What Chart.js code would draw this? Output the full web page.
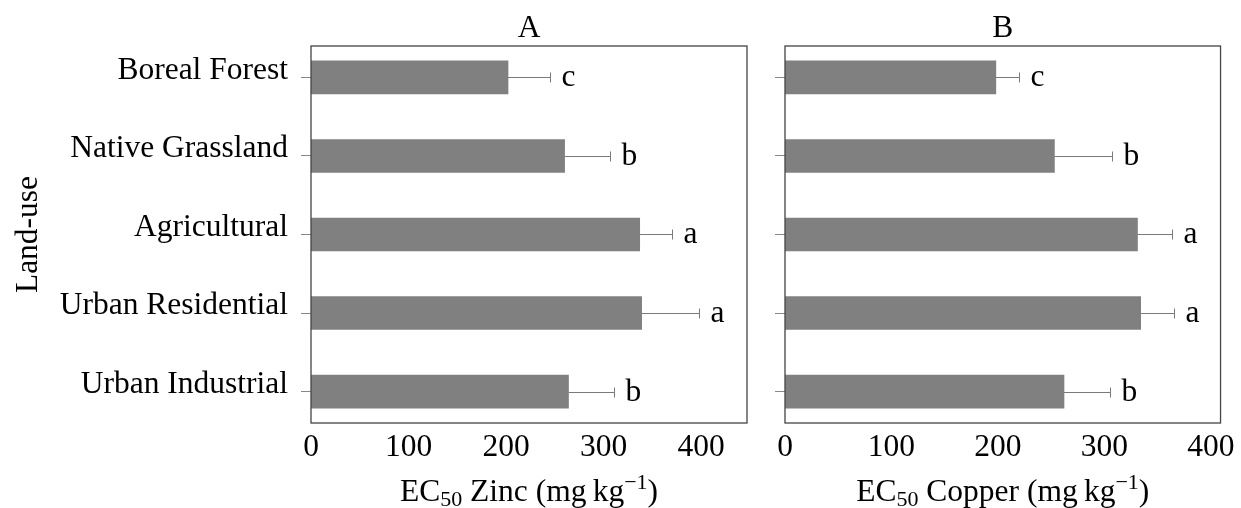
<!DOCTYPE html>
<html>
<head>
<meta charset="utf-8">
<script src="https://cdn.jsdelivr.net/npm/chart.js@4"></script>
<style>
  body { margin: 0; background: #fff; }
  #wrap { position: relative; width: 1241px; height: 508px; }
  canvas { position: absolute; top: 0; }
</style>
</head>
<body>
<div id="wrap">
  <canvas id="chartA" width="760" height="508" style="left:0"></canvas>
  <canvas id="chartB" width="481" height="508" style="left:760px"></canvas>
</div>
<script>
// Data
const categories = ["Boreal Forest", "Native Grassland", "Agricultural", "Urban Residential", "Urban Industrial"];
const zincMean = [202, 260, 337, 339, 264];
const zincErr = [43, 47, 33, 59, 47];
const copperMean = [198, 253, 331, 334, 262];
const copperErr = [22, 54, 32, 31, 43];
const letters = ["c", "b", "a", "a", "b"];
const xTicks = [0, 100, 200, 300, 400];

const FONT = "'Liberation Serif', 'Times New Roman', serif";
const FS = 31.5;

// draws frame, error bars, letters, titles
const decorations = {
  id: "decorations",
  afterDatasetsDraw(chart, args, opts) {
    const { ctx, chartArea: a, scales: { x, y } } = chart;
    ctx.save();

    // error bars
    ctx.strokeStyle = "#7a7a7a";
    ctx.lineWidth = 1;
    opts.means.forEach((m, i) => {
      const yc = Math.round(y.getPixelForValue(i)) + 0.5;
      const x0 = x.getPixelForValue(m);
      const x1 = Math.round(x.getPixelForValue(m + opts.errs[i])) + 0.5;
      ctx.beginPath();
      ctx.moveTo(x0, yc);
      ctx.lineTo(x1, yc);
      ctx.moveTo(x1, yc - 5);
      ctx.lineTo(x1, yc + 5);
      ctx.stroke();

      ctx.fillStyle = "#000";
      ctx.font = FS + "px " + FONT;
      ctx.textAlign = "left";
      ctx.textBaseline = "alphabetic";
      ctx.fillText(opts.letters[i], x1 + 11, yc + 8);
    });

    // frame
    ctx.strokeStyle = "#444";
    ctx.lineWidth = 1.3;
    ctx.strokeRect(a.left, a.top, a.right - a.left, a.bottom - a.top);

    const cx = (a.left + a.right) / 2;
    ctx.fillStyle = "#000";
    ctx.textBaseline = "alphabetic";

    // panel title
    ctx.font = FS + "px " + FONT;
    ctx.textAlign = "center";
    ctx.fillText(opts.title, cx, 37);

    // x axis title with sub / superscript
    const parts = [
      { t: "EC", s: FS, dy: 0 },
      { t: "50", s: 22, dy: 5 },
      { t: " " + opts.metal + " (mg\u2009kg", s: FS, dy: 0 },
      { t: "\u22121", s: 22, dy: -12 },
      { t: ")", s: FS, dy: 0 }
    ];
    let total = 0;
    parts.forEach(p => { ctx.font = p.s + "px " + FONT; p.w = ctx.measureText(p.t).width; total += p.w; });
    let px = cx - total / 2;
    ctx.textAlign = "left";
    parts.forEach(p => {
      ctx.font = p.s + "px " + FONT;
      ctx.fillText(p.t, px, 501 + p.dy);
      px += p.w;
    });

    // y axis title
    if (opts.yTitle) {
      ctx.font = FS + "px " + FONT;
      ctx.translate(37, (a.top + a.bottom) / 2);
      ctx.rotate(-Math.PI / 2);
      ctx.textAlign = "center";
      ctx.fillText(opts.yTitle, 0, 0);
    }
    ctx.restore();
  }
};

function makeChart(id, means, errs, xMax, yWidth, padRight, title, metal, showLabels) {
  return new Chart(document.getElementById(id), {
    type: "bar",
    data: {
      datasets: [{
        data: means.map((m, i) => ({ x: m, y: i })),
        backgroundColor: "#808080",
        borderWidth: 0,
        barThickness: 33
      }]
    },
    options: {
      indexAxis: "y",
      responsive: false,
      animation: false,
      layout: { padding: { left: 0, right: padRight, top: 46, bottom: 35 } },
      plugins: {
        legend: { display: false },
        tooltip: { enabled: false },
        decorations: { means, errs, letters, title, metal, yTitle: showLabels ? "Land-use" : null }
      },
      scales: {
        x: {
          type: "linear",
          min: 0,
          max: xMax,
          afterBuildTicks: s => { s.ticks = xTicks.map(v => ({ value: v })); },
          afterFit: s => { s.height = 50; },
          grid: { display: false, drawTicks: false },
          border: { display: false },
          ticks: { color: "#000", font: { family: FONT, size: FS }, padding: 6, maxRotation: 0 }
        },
        y: {
          type: "linear",
          min: -0.4,
          max: 4.4,
          reverse: true,
          offset: false,
          afterBuildTicks: s => { s.ticks = categories.map((c, i) => ({ value: i })); },
          afterFit: s => { s.width = yWidth; },
          grid: { offset: false, drawOnChartArea: false, drawTicks: true, tickLength: 10, color: "#888" },
          border: { display: false },
          ticks: {
            display: showLabels,
            color: "#000",
            font: { family: FONT, size: FS },
            padding: 13,
            labelOffset: -7,
            callback: v => categories[v]
          }
        }
      }
    },
    plugins: [decorations]
  });
}

makeChart("chartA", zincMean, zincErr, 447, 311, 13, "A", "Zinc", true);
makeChart("chartB", copperMean, copperErr, 409, 25, 19, "B", "Copper", false);
</script>
</body>
</html>
